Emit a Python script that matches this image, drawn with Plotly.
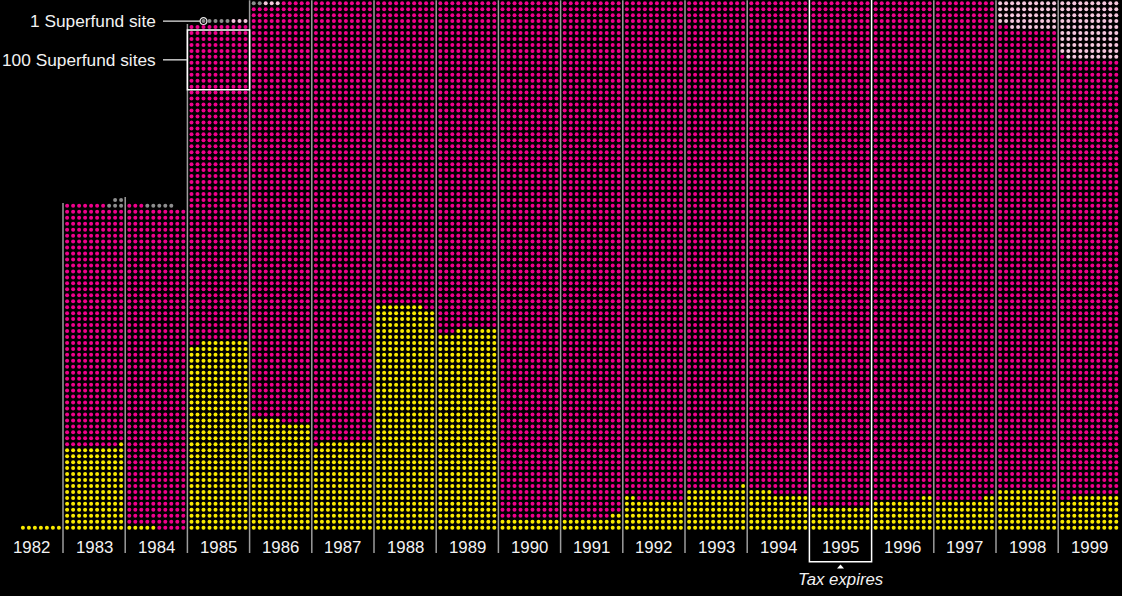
import plotly.graph_objects as go

# ---- data: number of sites per year, one dot per site ----
years = ["1982", "1983", "1984", "1985", "1986", "1987", "1988", "1989", "1990",
         "1991", "1992", "1993", "1994", "1995", "1996", "1997", "1998", "1999"]
yellow_sites = [7, 141, 5, 318, 185, 149, 378, 337, 20, 22, 52, 71, 64, 40, 52, 52, 70, 58]
magenta_sites = [0, 406, 538, 532, 700, 741, 512, 553, 870, 868, 838, 819, 826, 850, 838, 838, 772, 733]
light_sites = [0, 0, 0, 3, 3, 0, 0, 0, 0, 0, 0, 0, 0, 0, 0, 0, 48, 99]
grey_sites = [0, 5, 5, 5, 2, 0, 0, 0, 0, 0, 0, 0, 0, 0, 0, 0, 0, 0]

# row fill direction of each group (yellow, magenta, light, grey) inside a column
fill_dirs = ["RLLL", "RLRR", "LLLL", "RLRR", "LRRR", "RLLL", "LLLL", "RLLL", "LLLL",
             "RLLL", "LLLL", "RLLL", "LLLL", "LLLL", "RLLL", "RLLL", "RLLL", "RLLL"]

group_colors = ["#f9ea00", "#f0008c", "#f4c6dc", "#8e8e8e"]
highlight_year = "1995"
scale_year = "1985"

# ---- geometry (pixel units across, row units up) ----
W, H = 1122, 596
COL_W = 62.2
LEFT = 0.8
DOT_DX = 6.0
ROW_PX = 5.96
BASE_PX = 527.7
PER_ROW = 10
Y_LO = (BASE_PX - H) / ROW_PX
Y_HI = BASE_PX / ROW_PX


def px_row(py):
    return (BASE_PX - py) / ROW_PX


def col_left(i):
    return LEFT + i * COL_W


def dot_x(i, p):
    return col_left(i) + (COL_W - (PER_ROW - 1) * DOT_DX) / 2 + p * DOT_DX


def layout_column(counts, dirs):
    used = {}
    row = 0
    cells = []
    for g, (n, d) in enumerate(zip(counts, dirs)):
        while n > 0:
            taken = used.setdefault(row, set())
            free = [p for p in range(PER_ROW) if p not in taken]
            if not free:
                row += 1
                continue
            if d == "R":
                free.reverse()
            pick = free[:n]
            for p in pick:
                taken.add(p)
                cells.append((g, row, p))
            n -= len(pick)
            if len(taken) == PER_ROW:
                row += 1
    return cells


columns = []
for i in range(len(years)):
    counts = [yellow_sites[i], magenta_sites[i], light_sites[i], grey_sites[i]]
    columns.append(layout_column(counts, fill_dirs[i]))

fig = go.Figure()
for g, color in enumerate(group_colors):
    xs, ys = [], []
    for i, cells in enumerate(columns):
        for gg, r, p in cells:
            if gg == g:
                xs.append(dot_x(i, p))
                ys.append(r)
    fig.add_trace(go.Scatter(x=xs, y=ys, mode="markers", hoverinfo="skip",
                             marker=dict(size=4.0, color=color, line=dict(width=0))))


def top_row(i, p):
    rows = [r for _, r, pp in columns[i] if pp == p]
    return max(rows) if rows else -1


shapes = []
annotations = []
hi = years.index(highlight_year)
line_bottom = px_row(553)

# separators between years
for k in range(len(years) - 1):
    if hi in (k, k + 1):
        continue
    top = max(top_row(k, PER_ROW - 1), top_row(k + 1, 0)) + 0.5
    top = min(top, Y_HI + 1)
    shapes.append(dict(type="line", x0=col_left(k + 1), x1=col_left(k + 1),
                       y0=line_bottom, y1=top, line=dict(color="#9c9c9c", width=1.5)))

# highlighted year frame
shapes.append(dict(type="rect", x0=col_left(hi), x1=col_left(hi + 1),
                   y0=px_row(561.7), y1=Y_HI + 5, line=dict(color="#ffffff", width=1.5)))
cx = col_left(hi) + COL_W / 2
shapes.append(dict(type="path",
                   path=f"M {cx - 3.5} {px_row(568.5)} L {cx + 3.5} {px_row(568.5)} L {cx} {px_row(564.5)} Z",
                   fillcolor="#ffffff", line=dict(width=0)))
annotations.append(dict(x=cx, y=px_row(579), text="<i>Tax expires</i>", showarrow=False,
                        xanchor="center", yanchor="middle",
                        font=dict(family="Liberation Sans", size=16.8, color="#f2f2f2")))

# year labels
for i, yr in enumerate(years):
    annotations.append(dict(x=col_left(i) + COL_W / 2, y=px_row(547.5), text=yr, showarrow=False,
                            xanchor="center", yanchor="middle",
                            font=dict(family="Liberation Sans", size=16.8, color="#f2f2f2")))

# scale key: one site
si = years.index(scale_year)
grey_cells = [(r, p) for g, r, p in columns[si] if g == 3]
kr, kp = min(grey_cells, key=lambda c: c[1])
kx = dot_x(si, kp)
ring = 3.4
shapes.append(dict(type="circle", x0=kx - ring, x1=kx + ring,
                   y0=kr - ring / ROW_PX, y1=kr + ring / ROW_PX,
                   line=dict(color="#e6e6e6", width=1.2)))
shapes.append(dict(type="line", x0=163, x1=kx - ring, y0=kr, y1=kr,
                   line=dict(color="#e6e6e6", width=1.3)))
annotations.append(dict(x=158, y=kr, text="1 Superfund site", showarrow=False,
                        xanchor="right", yanchor="middle",
                        font=dict(family="Liberation Sans", size=17.3, color="#f2f2f2")))

# scale key: a block of one hundred sites
block_top = max(r for g, r, p in columns[si] if g == 1 and p == 0) - 1
b_lo, b_hi = block_top - 9 - 0.5, block_top + 0.5
shapes.append(dict(type="rect", x0=col_left(si), x1=col_left(si + 1), y0=b_lo, y1=b_hi,
                   line=dict(color="#ffffff", width=1.5)))
shapes.append(dict(type="line", x0=163, x1=col_left(si), y0=(b_lo + b_hi) / 2, y1=(b_lo + b_hi) / 2,
                   line=dict(color="#e6e6e6", width=1.3)))
annotations.append(dict(x=158, y=(b_lo + b_hi) / 2, text="100 Superfund sites", showarrow=False,
                        xanchor="right", yanchor="middle",
                        font=dict(family="Liberation Sans", size=17.3, color="#f2f2f2")))

fig.update_layout(
    width=W, height=H, margin=dict(l=0, r=0, t=0, b=0),
    paper_bgcolor="#000000", plot_bgcolor="#000000",
    showlegend=False, shapes=shapes, annotations=annotations,
    xaxis=dict(range=[0, W], visible=False, fixedrange=True),
    yaxis=dict(range=[Y_LO, Y_HI], visible=False, fixedrange=True),
)
fig.write_html("out.html", config={"displayModeBar": False})
